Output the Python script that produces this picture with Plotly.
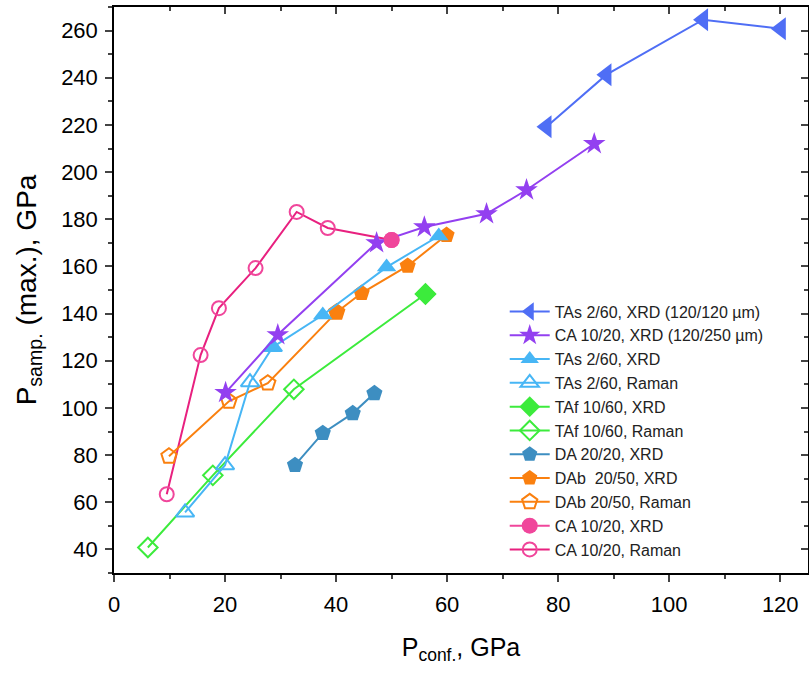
import plotly.graph_objects as go

# ---- data ----
tas120_x = [77.9, 88.7, 106.1, 120.1]
tas120_y = [219.2, 241.3, 264.6, 260.8]

ca250_x = [20.1, 29.5, 47.3, 55.9, 67.1, 74.3, 86.5]
ca250_y = [106.5, 131.0, 170.0, 176.7, 182.3, 192.4, 212.0]

tas_xrd_x = [28.6, 37.6, 49.1, 58.5]
tas_xrd_y = [125.8, 139.4, 159.7, 172.9]
tas_ram_x = [12.8, 20.0, 24.5, 28.6]
tas_ram_y = [55.7, 75.7, 110.9, 125.8]

taf_xrd_x = [56.1]
taf_xrd_y = [148.3]
taf_ram_x = [6.1, 17.8, 32.4, 56.1]
taf_ram_y = [40.8, 71.4, 107.9, 148.3]

da_x = [32.6, 37.6, 43.0, 46.9]
da_y = [75.7, 89.3, 97.7, 106.2]

dab_xrd_x = [40.1, 44.6, 52.9, 59.9]
dab_xrd_y = [140.6, 148.7, 160.2, 173.3]
dab_ram_x = [9.9, 20.7, 27.7, 40.1]
dab_ram_y = [79.5, 102.8, 110.5, 140.6]

ca_xrd_x = [50.0]
ca_xrd_y = [171.2]
ca_ram_x = [9.5, 15.6, 18.9, 25.5, 32.9, 38.5, 50.0]
ca_ram_y = [63.4, 122.4, 142.3, 159.3, 183.1, 176.3, 171.2]

x_ticks = [0, 20, 40, 60, 80, 100, 120]
y_ticks = [40, 60, 80, 100, 120, 140, 160, 180, 200, 220, 240, 260]

FONT = "Liberation Sans, Arial, sans-serif"

fig = go.Figure()


def add(x, y, name, rank, color, symbol, size, filled=True, lcolor=None):
    fig.add_trace(go.Scatter(
        x=x, y=y, name=name, legendrank=rank, mode="lines+markers",
        line=dict(color=lcolor or color, width=2),
        marker=dict(symbol=symbol if filled else symbol + "-open", size=size,
                    color=color,
                    line=dict(color=color, width=2 if not filled else 0)),
    ))


# draw order: Raman series first so filled XRD markers sit on top
add(ca_ram_x, ca_ram_y, "CA 10/20, Raman", 11, "#F0469B", "circle", 14, False, "#E8207F")
add(dab_ram_x, dab_ram_y, "DAb 20/50, Raman", 9, "#FA800F", "pentagon", 16, False)
add(taf_ram_x, taf_ram_y, "TAf 10/60, Raman", 6, "#3CEB3C", "diamond", 15, False)
add(tas_ram_x, tas_ram_y, "TAs 2/60, Raman", 4, "#47B6F5", "triangle-up", 16, False)
add(da_x, da_y, "DA 20/20, XRD", 7, "#3D8EC1", "pentagon", 17)
add(dab_xrd_x, dab_xrd_y, "DAb\u00a0 20/50, XRD", 8, "#FA800F", "pentagon", 17)
add(taf_xrd_x, taf_xrd_y, "TAf 10/60, XRD", 5, "#3CEB3C", "diamond", 16)
add(tas_xrd_x, tas_xrd_y, "TAs 2/60, XRD", 3, "#47B6F5", "triangle-up", 17)
add(ca250_x, ca250_y, "CA 10/20, XRD (120/250 µm)", 2, "#9340F0", "star", 17)
add(ca_xrd_x, ca_xrd_y, "CA 10/20, XRD", 10, "#F0469B", "circle", 16)
add(tas120_x, tas120_y, "TAs 2/60, XRD (120/120 µm)", 1, "#4F6EF5", "triangle-left", 20)

# dummy trace to create mirror axes (top/right) with inward ticks
fig.add_trace(go.Scatter(x=[None], y=[None], xaxis="x2", yaxis="y2",
                         showlegend=False, hoverinfo="skip"))

XR = [0, 125]
YR = [30, 270]

fig.update_layout(
    width=809, height=675,
    margin=dict(l=114, r=1, t=7, b=102),
    paper_bgcolor="white", plot_bgcolor="white",
    font=dict(family=FONT, size=20, color="black"),
    showlegend=True,
    legend=dict(x=0.563, y=0.492, xanchor="left", yanchor="top",
                bgcolor="rgba(0,0,0,0)", font=dict(size=16, color="#222"),
                tracegroupgap=0, itemwidth=40),
    xaxis=dict(range=XR, tickvals=x_ticks, ticks="outside", ticklen=7, tickwidth=1.5,
               showline=True, linecolor="black", linewidth=1.5, showgrid=False,
               zeroline=False, tickfont=dict(size=22), ticklabelstandoff=4,
               minor=dict(dtick=10, ticks="outside", ticklen=4, tickwidth=1.5, showgrid=False),
               title=dict(text="\u00a0\u00a0\u00a0P<sub>conf.</sub>, GPa",
                          font=dict(size=25), standoff=22)),
    yaxis=dict(range=YR, tickvals=y_ticks, ticks="outside", ticklen=7, tickwidth=1.5,
               showline=True, linecolor="black", linewidth=1.5, showgrid=False,
               zeroline=False, tickfont=dict(size=22), ticklabelstandoff=3,
               minor=dict(dtick=10, ticks="outside", ticklen=4, tickwidth=1.5, showgrid=False),
               title=dict(text="P<sub>samp.</sub> (max.), GPa", font=dict(size=28), standoff=16)),
    xaxis2=dict(range=XR, overlaying="x", side="top", tickvals=x_ticks, ticks="inside",
                ticklen=7, tickwidth=1.5, showticklabels=False, showline=True,
                linecolor="black", linewidth=1.5, showgrid=False, zeroline=False,
                minor=dict(dtick=10, ticks="inside", ticklen=4, tickwidth=1.5, showgrid=False)),
    yaxis2=dict(range=YR, overlaying="y", side="right", tickvals=y_ticks, ticks="inside",
                ticklen=7, tickwidth=1.5, showticklabels=False, showline=True,
                linecolor="black", linewidth=1.5, showgrid=False, zeroline=False,
                minor=dict(dtick=10, ticks="inside", ticklen=4, tickwidth=1.5, showgrid=False)),
)

fig.write_html("out.html")
